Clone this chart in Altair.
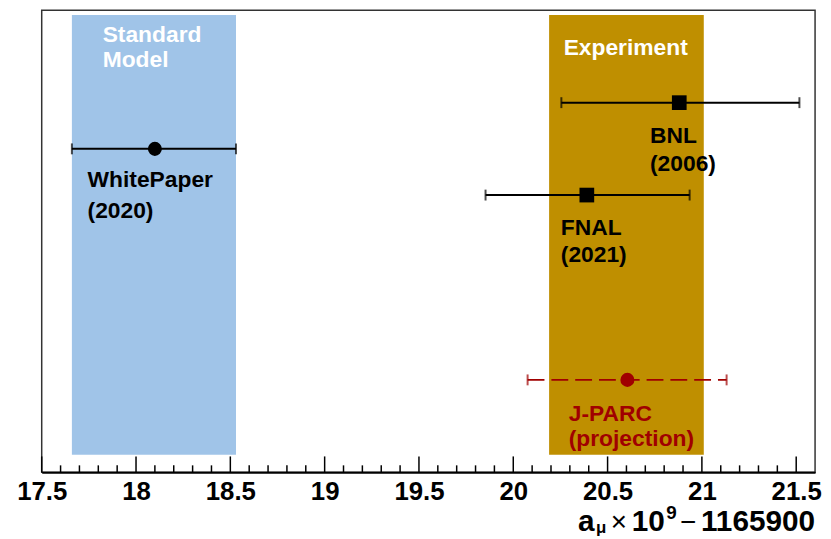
import altair as alt
import pandas as pd

# ---------------- data ----------------
band_names = ["Standard Model", "Experiment"]
band_lo = [17.66, 20.19]
band_hi = [18.53, 21.01]

meas_names = ["WhitePaper (2020)", "BNL (2006)", "FNAL (2021)", "J-PARC (projection)"]
meas_value = [18.10, 20.88, 20.39, 20.605]
meas_lo = [17.66, 20.255, 19.853, 20.076]
meas_hi = [18.53, 21.517, 20.935, 21.131]
meas_row = [7, 8, 6, 2]

label_text = ["Standard", "Model", "Experiment",
              "WhitePaper", "(2020)", "BNL", "(2006)", "FNAL", "(2021)",
              "J-PARC", "(projection)"]
label_x = [17.823, 17.823, 20.267,
           17.743, 17.743, 20.725, 20.725, 20.252, 20.252,
           20.294, 20.294]
label_y = [9.31, 8.78, 9.04,
           6.17, 5.50, 7.13, 6.52, 5.14, 4.55,
           1.12, 0.57]
label_group = ["band", "band", "band",
               "meas", "meas", "meas", "meas", "meas", "meas",
               "proj", "proj"]

major_ticks = [17.5, 18, 18.5, 19, 19.5, 20, 20.5, 21, 21.5]
minor_ticks = [17.6, 17.7, 17.8, 17.9, 18.1, 18.2, 18.3, 18.4,
               18.6, 18.7, 18.8, 18.9, 19.1, 19.2, 19.3, 19.4,
               19.6, 19.7, 19.8, 19.9, 20.1, 20.2, 20.3, 20.4,
               20.6, 20.7, 20.8, 20.9, 21.1, 21.2, 21.3, 21.4]

title_parts = ["a", "μ", "×", "10", "9", "−", "1165900"]

# ---------------- styling ----------------
W, H = 780, 466
FONT = "Liberation Sans"
BLUE = "#a0c4e8"
GOLD = "#bf8f00"
RED = "#a00000"

XS = alt.Scale(domain=[17.5, 21.6], nice=False, zero=False)
YS = alt.Scale(domain=[0, 10], nice=False, zero=False)
x_axis = alt.Axis(values=major_ticks, format=".1~f", title=None, ticks=False,
                  grid=False, domain=True, domainColor="black", domainWidth=2,
                  labelFont=FONT, labelFontSize=26, labelFontWeight="bold",
                  labelColor="black", labelPadding=6, labelFlush=False,
                  labelOverlap=False)


def X(field):
    return alt.X(field, type="quantitative", scale=XS, axis=x_axis)


def Y(field):
    return alt.Y(field, type="quantitative", scale=YS, axis=None)


bands_df = pd.DataFrame({"name": band_names, "lo": band_lo, "hi": band_hi})
meas_df = pd.DataFrame({"name": meas_names, "v": meas_value, "lo": meas_lo,
                        "hi": meas_hi, "row": meas_row})
labels_df = pd.DataFrame({"t": label_text, "x": label_x, "y": label_y,
                          "g": label_group})

bands = alt.Chart(bands_df).mark_rect().encode(
    x=X("lo"), x2="hi",
    y=alt.Y(datum=0.38, type="quantitative", scale=YS, axis=None),
    y2=alt.Y2(datum=9.9),
    color=alt.Color("name:N", scale=alt.Scale(domain=band_names, range=[BLUE, GOLD]),
                    legend=None),
)

major = alt.Chart(pd.DataFrame({"t": major_ticks})).mark_rule(
    color="black", strokeWidth=1.5).encode(
    x=X("t"), y=alt.value(H), y2=alt.value(H - 16))
minor = alt.Chart(pd.DataFrame({"t": minor_ticks})).mark_rule(
    color="black", strokeWidth=1.5).encode(
    x=X("t"), y=alt.value(H), y2=alt.value(H - 7))

solid = meas_df[meas_df["name"] != "J-PARC (projection)"]
proj = meas_df[meas_df["name"] == "J-PARC (projection)"]

err_solid = alt.Chart(solid).mark_rule(color="black", strokeWidth=2).encode(
    x=X("lo"), x2="hi", y=Y("row"))
err_proj = alt.Chart(proj).mark_rule(color=RED, strokeWidth=2,
                                     strokeDash=[17, 7]).encode(
    x=X("lo"), x2="hi", y=Y("row"))


def caps(df, field, color):
    return alt.Chart(df).mark_tick(orient="vertical", color=color,
                                   size=11, thickness=2).encode(
        x=X(field), y=Y("row"))


wp = meas_df[meas_df["name"] == "WhitePaper (2020)"]
sq = meas_df[meas_df["name"].isin(["BNL (2006)", "FNAL (2021)"])]

pt_wp = alt.Chart(wp).mark_point(shape="circle", filled=True, color="black",
                                 size=200, opacity=1).encode(x=X("v"), y=Y("row"))
pt_sq = alt.Chart(sq).mark_point(shape="square", filled=True, color="black",
                                 size=220, opacity=1).encode(x=X("v"), y=Y("row"))
pt_proj = alt.Chart(proj).mark_point(shape="circle", filled=True, color=RED,
                                     size=200, opacity=1).encode(x=X("v"), y=Y("row"))


def text_layer(group, color):
    return alt.Chart(labels_df[labels_df["g"] == group]).mark_text(
        align="left", baseline="alphabetic", font=FONT, fontSize=23,
        fontWeight="bold", color=color).encode(
        x=X("x"), y=Y("y"), text="t:N")


txt_band = text_layer("band", "white")
txt_meas = text_layer("meas", "black")
txt_proj = text_layer("proj", RED)


def title_piece(i, x, y, size, align, weight="bold"):
    return alt.Chart(pd.DataFrame({"t": [title_parts[i]]})).mark_text(
        align=align, baseline="alphabetic", font=FONT, fontSize=size,
        fontWeight=weight, color="black").encode(
        x=alt.value(x), y=alt.value(y), text="t:N")


BASE = 525
title_layers = [
    title_piece(0, 541, BASE, 30, "left"),
    title_piece(1, 559, BASE + 2, 17, "left"),
    title_piece(2, 582, BASE, 28, "center", "normal"),
    title_piece(3, 595, BASE, 30, "left"),
    title_piece(4, 630, BASE - 12, 19, "left"),
    title_piece(5, 652, BASE, 28, "center", "normal"),
    title_piece(6, 780, BASE, 30, "right"),
]

chart = alt.layer(
    bands, major, minor,
    err_solid, err_proj,
    caps(solid, "lo", "black"), caps(solid, "hi", "black"),
    caps(proj, "lo", RED), caps(proj, "hi", RED),
    pt_wp, pt_sq, pt_proj,
    txt_band, txt_meas, txt_proj,
    *title_layers,
).properties(
    width=W, height=H,
    autosize=alt.AutoSizeParams(type="none"),
    padding={"left": 34, "top": 0, "right": 8, "bottom": 64},
    background="white",
).configure_view(stroke="#333333", strokeWidth=1.5)

chart.save("out.html", embed_options={"renderer": "svg", "actions": False})
